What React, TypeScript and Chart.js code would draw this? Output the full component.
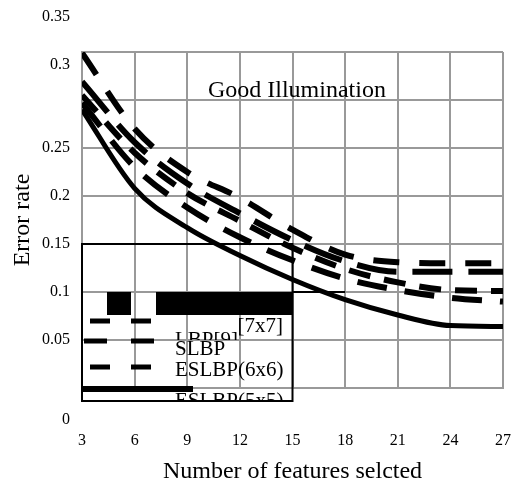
import React, { useEffect, useRef } from "react";
import { Chart, registerables } from "chart.js";

Chart.register(...registerables);

const features = [3, 6, 9, 12, 15, 18, 21, 24, 27];
const lbp9 = [0.349, 0.27, 0.225, 0.198, 0.165, 0.139, 0.131, 0.13, 0.13];
const slbp = [0.319, 0.256, 0.213, 0.182, 0.154, 0.132, 0.121, 0.121, 0.121];
const eslbp7 = [0.305, 0.245, 0.203, 0.174, 0.146, 0.124, 0.11, 0.102, 0.101];
const eslbp6 = [0.297, 0.23, 0.188, 0.157, 0.133, 0.114, 0.102, 0.094, 0.09];
const eslbp5 = [0.29, 0.208, 0.167, 0.138, 0.113, 0.092, 0.076, 0.065, 0.064];

const shiftedYTicks = [0, 0.3, 0.35];
const chartTitle = "Good Illumination";
const xTitle = "Number of features selcted";
const yTitle = "Error rate";
const legendTexts = ["[7x7]", "LBP[9]", "SLBP", "ESLBP(6x6)", "ESLBP(5x5)"];

const SERIF = '"Liberation Serif", "Times New Roman", serif';
const GRID = "#999999";

const toPoints = (vals: number[]) => vals.map((v, i) => ({ x: features[i], y: v }));

const overlay = {
  id: "overlay",
  afterDraw(chart: any) {
    const { ctx } = chart;
    const xs = chart.scales.x;
    const ys = chart.scales.y;
    const X = (v: number) => xs.getPixelForValue(v);
    const Y = (v: number) => ys.getPixelForValue(v);
    ctx.save();

    // displaced y tick labels
    ctx.fillStyle = "#000";
    ctx.font = `16px ${SERIF}`;
    ctx.textAlign = "right";
    ctx.textBaseline = "middle";
    const lx = chart.chartArea.left - 12;
    const offs: Record<string, number> = { "0": 32, "0.3": -35, "0.35": -35 };
    shiftedYTicks.forEach((v) => {
      const s = String(v);
      ctx.fillText(s, lx, Y(v) + offs[s]);
    });

    // in-plot title
    ctx.font = `24px ${SERIF}`;
    ctx.textAlign = "center";
    ctx.fillText(chartTitle, X(15.25), Y(0.31));

    // black segment on 0.1 grid line
    ctx.strokeStyle = "#000";
    ctx.lineWidth = 2;
    ctx.beginPath();
    ctx.moveTo(X(15), Y(0.1));
    ctx.lineTo(X(18), Y(0.1));
    ctx.stroke();

    // legend box
    const L = X(3);
    const R = X(15);
    const T = Y(0.15);
    const B = Y(0) + 13;
    ctx.strokeRect(L, T, R - L, B - T);

    const top01 = Y(0.1);
    ctx.fillRect(L + 25, top01, 24, 23);
    ctx.fillRect(L + 74, top01, R - L - 74, 23);

    const dashRow = (yc: number, segs: [number, number][]) => {
      segs.forEach(([a, b]) => ctx.fillRect(L + a, yc - 2.5, b - a, 5));
    };
    dashRow(top01 + 29, [[8, 28], [49, 69]]);
    dashRow(top01 + 49, [[2, 25], [49, 72]]);
    dashRow(top01 + 75, [[8, 28], [49, 69]]);
    ctx.fillRect(L, top01 + 94, 111, 6);

    ctx.font = `21px ${SERIF}`;
    ctx.textBaseline = "alphabetic";
    ctx.textAlign = "right";
    ctx.fillText(legendTexts[0], L + 201, top01 + 40);
    ctx.textAlign = "left";
    ctx.save();
    ctx.beginPath();
    ctx.rect(L + 90, top01 + 30, 120, 18);
    ctx.clip();
    ctx.fillText(legendTexts[1], L + 93, top01 + 54);
    ctx.restore();
    ctx.fillText(legendTexts[2], L + 93, top01 + 63);
    ctx.fillText(legendTexts[3], L + 93, top01 + 84);
    ctx.save();
    ctx.beginPath();
    ctx.rect(L + 90, top01 + 100, 120, B - top01 - 101);
    ctx.clip();
    ctx.fillText(legendTexts[4], L + 93, top01 + 115);
    ctx.restore();

    ctx.restore();
  },
};

export default function App() {
  const ref = useRef<HTMLCanvasElement>(null);
  useEffect(() => {
    document.body.style.margin = "0";
    if (!ref.current) return;
    const common = {
      borderColor: "#000",
      backgroundColor: "#000",
      borderWidth: 6,
      pointRadius: 0,
      fill: false,
      cubicInterpolationMode: "monotone" as const,
      borderCapStyle: "butt" as const,
    };
    const chart = new Chart(ref.current, {
      type: "line",
      data: {
        datasets: [
          { ...common, label: "LBP[9]", data: toPoints(lbp9), borderDash: [26, 20] },
          { ...common, label: "SLBP", data: toPoints(slbp), borderDash: [40, 16] },
          { ...common, label: "ESLBP(7x7)", data: toPoints(eslbp7), borderDash: [22, 14] },
          { ...common, label: "ESLBP(6x6)", data: toPoints(eslbp6), borderDash: [30, 18] },
          { ...common, label: "ESLBP(5x5)", data: toPoints(eslbp5), borderWidth: 5 },
        ],
      },
      options: {
        animation: false,
        responsive: false,
        layout: { padding: { top: 52, right: 9, left: 0, bottom: 0 } },
        plugins: { legend: { display: false }, tooltip: { enabled: false }, title: { display: false } },
        scales: {
          x: {
            type: "linear",
            min: 3,
            max: 27,
            afterFit: (s: any) => {
              s.height = 100;
              s.paddingLeft = 0;
              s.paddingRight = 0;
            },
            grid: { color: GRID, lineWidth: 2, drawTicks: false },
            border: { display: true, color: GRID, width: 2 },
            ticks: {
              stepSize: 3,
              padding: 43,
              color: "#000",
              font: { family: SERIF, size: 16 },
            },
            title: {
              display: true,
              text: xTitle,
              color: "#000",
              font: { family: SERIF, size: 24 },
              padding: { top: 0, bottom: 2 },
            },
          },
          y: {
            type: "linear",
            min: 0,
            max: 0.35,
            afterFit: (s: any) => {
              s.width = 82;
            },
            grid: { color: GRID, lineWidth: 2, drawTicks: false },
            border: { display: true, color: GRID, width: 2 },
            ticks: {
              stepSize: 0.05,
              padding: 12,
              color: "#000",
              font: { family: SERIF, size: 16 },
              callback: (v: any) => {
                const r = Math.round(Number(v) * 100) / 100;
                return shiftedYTicks.includes(r) ? "" : String(r);
              },
            },
            title: {
              display: true,
              text: yTitle,
              color: "#000",
              font: { family: SERIF, size: 24 },
              padding: { top: 8, bottom: 0 },
            },
          },
        },
      },
      plugins: [overlay],
    });
    return () => chart.destroy();
  }, []);
  return (
    <div style={{ width: 512, height: 488 }}>
      <canvas ref={ref} width={512} height={488} />
    </div>
  );
}
